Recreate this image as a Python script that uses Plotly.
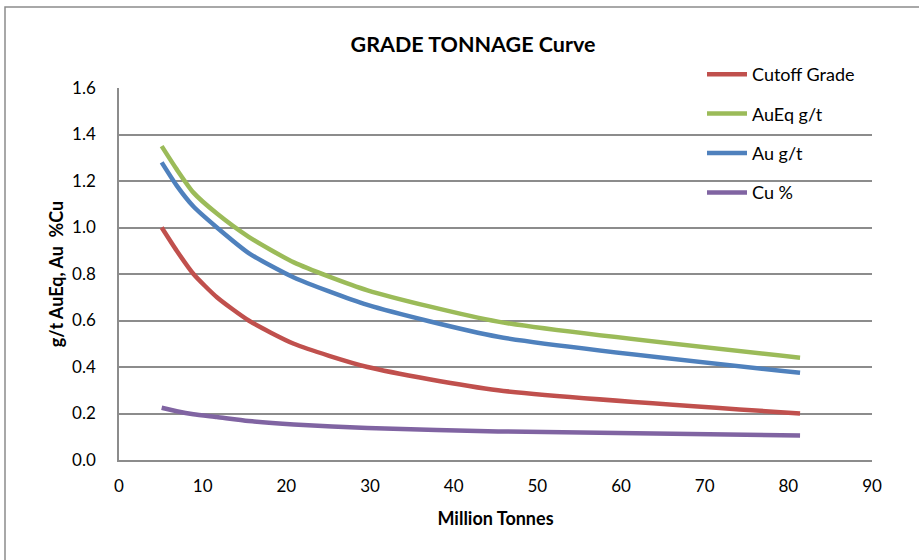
import plotly.graph_objects as go

tonnes = [5.1, 6.9, 8.9, 11.7, 15.5, 20.9, 29.7, 45.3, 81.4]
cutoff_grade = [1.0, 0.9, 0.8, 0.7, 0.6, 0.5, 0.4, 0.3, 0.2]
aueq_gt = [1.35, 1.25, 1.15, 1.06, 0.96, 0.85, 0.73, 0.595, 0.44]
au_gt = [1.28, 1.18, 1.09, 1.0, 0.89, 0.785, 0.667, 0.53, 0.375]
cu_pct = [0.225, 0.21, 0.197, 0.185, 0.168, 0.153, 0.138, 0.123, 0.105]

series = [
    ("Cutoff Grade", cutoff_grade, "#C0504D"),
    ("AuEq g/t", aueq_gt, "#9BBB59"),
    ("Au g/t", au_gt, "#4F81BD"),
    ("Cu %", cu_pct, "#8064A2"),
]

FONT = "Lato"
fig = go.Figure()
for i, (name, vals, col) in enumerate(series):
    fig.add_trace(go.Scatter(
        x=tonnes, y=vals, name=name, mode="lines",
        line=dict(color=col, width=4.5, shape="spline", smoothing=0.6),
        legendgroup=f"g{i}",
    ))

W, H = 919, 560
L, R, T, B = 119, 47, 88, 100
pw, ph = W - L - R, H - T - B

def px(x):
    return (x - L) / pw

def py(y):
    return (H - B - y) / ph

fig.update_layout(
    width=W, height=H,
    margin=dict(l=L, r=R, t=T, b=B),
    paper_bgcolor="white", plot_bgcolor="white",
    font=dict(family=FONT, size=17, color="#000000"),
    title=dict(text="<b>GRADE TONNAGE Curve</b>", x=px(473), xanchor="center",
               y=1 - 44 / H, yanchor="middle", xref="paper",
               font=dict(family=FONT, size=21.5, color="#000000")),
    showlegend=True,
    legend=dict(x=px(702), y=py(56), xanchor="left", yanchor="top",
                bgcolor="rgba(0,0,0,0)", font=dict(family=FONT, size=18),
                tracegroupgap=13, traceorder="grouped", itemwidth=40),
    xaxis=dict(range=[0, 90], dtick=10, tick0=0, showgrid=False,
               showline=True, linecolor="#8C8C8C", linewidth=1.5,
               ticks="", zeroline=False, ticklabelstandoff=10,
               tickfont=dict(family=FONT, size=17),
               title=dict(text="<b>Million Tonnes</b>", standoff=17,
                          font=dict(family=FONT, size=18))),
    yaxis=dict(range=[0, 1.6], dtick=0.2, tick0=0, tickformat=".1f",
               showgrid=True, gridcolor="#8C8C8C", gridwidth=1.5,
               showline=True, linecolor="#8C8C8C", linewidth=1.5,
               ticks="", zeroline=False, ticklabelstandoff=18,
               tickfont=dict(family=FONT, size=17),
               title=dict(text="<b>g/t AuEq, Au  %Cu</b>", standoff=4,
                          font=dict(family=FONT, size=18))),
    shapes=[dict(type="rect", xref="paper", yref="paper",
                 x0=px(5), x1=px(960), y0=py(600), y1=py(7),
                 line=dict(color="#8C8C8C", width=1.5), fillcolor="rgba(0,0,0,0)",
                 layer="below")],
)

fig.write_html("out.html", config={"displayModeBar": False},
               post_script="document.body.style.margin='0';")
